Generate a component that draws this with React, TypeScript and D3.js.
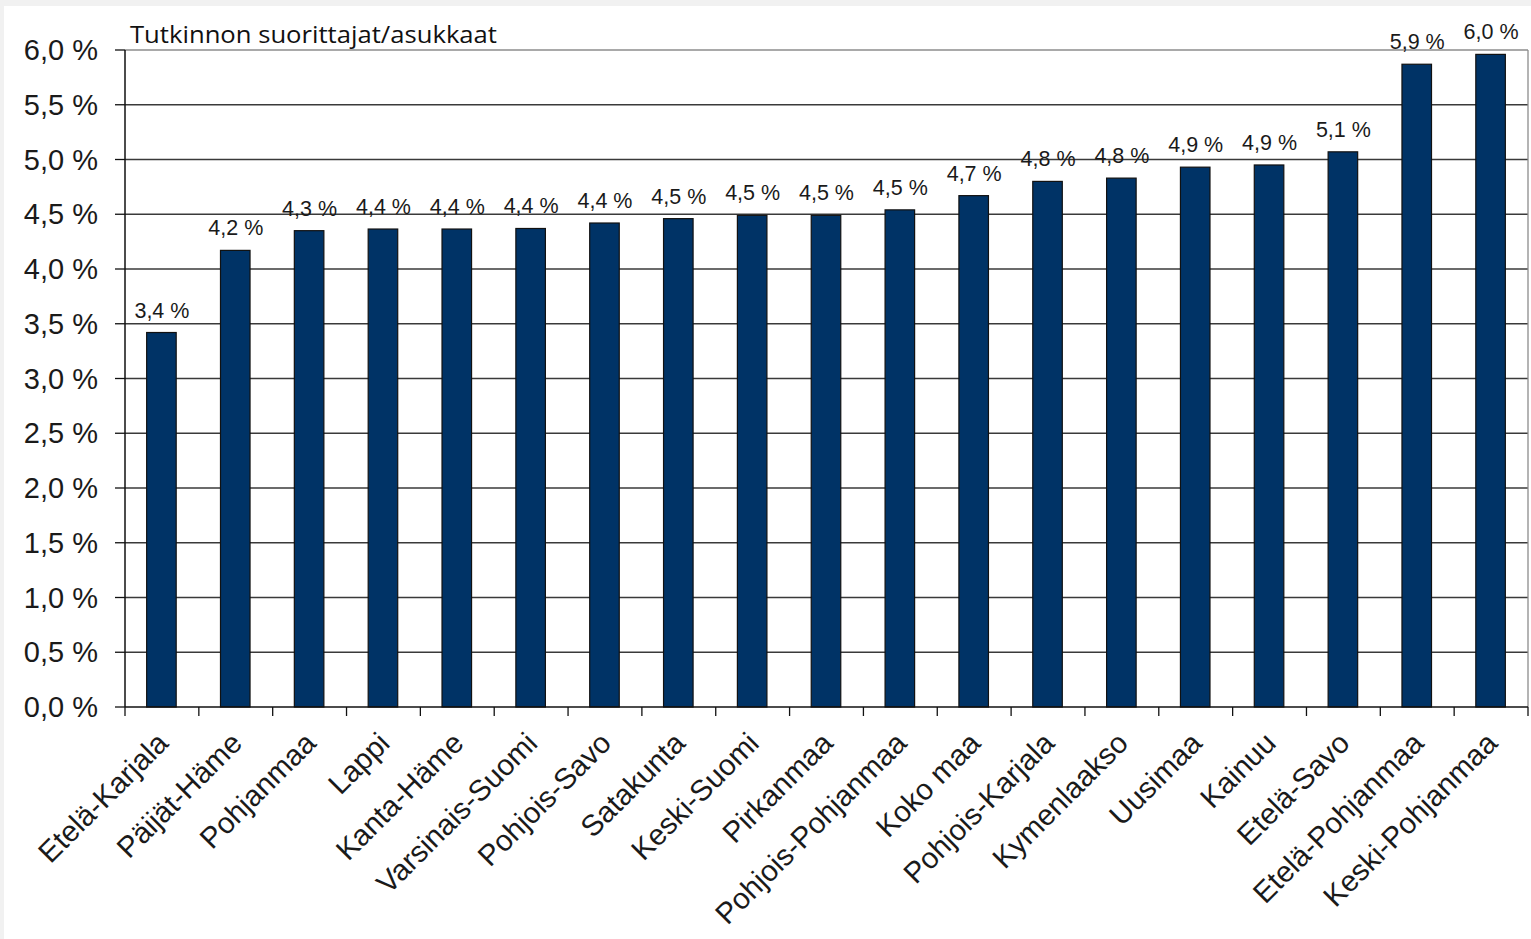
import React from "react";
import * as d3 from "d3";

const categories = [
  "Etelä-Karjala", "Päijät-Häme", "Pohjanmaa", "Lappi", "Kanta-Häme",
  "Varsinais-Suomi", "Pohjois-Savo", "Satakunta", "Keski-Suomi", "Pirkanmaa",
  "Pohjois-Pohjanmaa", "Koko maa", "Pohjois-Karjala", "Kymenlaakso", "Uusimaa",
  "Kainuu", "Etelä-Savo", "Etelä-Pohjanmaa", "Keski-Pohjanmaa",
];
const values = [
  3.42, 4.17, 4.35, 4.365, 4.365, 4.37, 4.42, 4.46, 4.49, 4.49,
  4.54, 4.67, 4.80, 4.83, 4.93, 4.95, 5.07, 5.87, 5.96,
];
const valueLabels = [
  "3,4 %", "4,2 %", "4,3 %", "4,4 %", "4,4 %", "4,4 %", "4,4 %", "4,5 %", "4,5 %", "4,5 %",
  "4,5 %", "4,7 %", "4,8 %", "4,8 %", "4,9 %", "4,9 %", "5,1 %", "5,9 %", "6,0 %",
];
const yTicks = [0, 0.5, 1, 1.5, 2, 2.5, 3, 3.5, 4, 4.5, 5, 5.5, 6];
const title = "Tutkinnon suorittajat/asukkaat";

const W = 1531;
const H = 939;
const left = 125;
const right = 1528;
const top = 50;
const bottom = 707;

const fmt = (v: number) => v.toFixed(1).replace(".", ",") + " %";

export default function App() {
  const x = d3.scaleBand<string>().domain(categories).range([left, right]).paddingInner(0).paddingOuter(0);
  const y = d3.scaleLinear().domain([0, 6]).range([bottom, top]);
  const bw = x.bandwidth() * 0.4;
  const boundaries = d3.range(categories.length + 1).map((i) => left + i * x.step());

  return (
    <svg width={W} height={H} style={{ position: "absolute", left: 0, top: 0, display: "block" }}>
      <rect x={0} y={0} width={W} height={H} fill="#f1f1f1" />
      <rect x={4} y={6} width={W - 4} height={H - 6} fill="#ffffff" />
      {yTicks.filter((t) => t > 0 && t < 6).map((t) => (
        <line key={t} x1={left} x2={right} y1={y(t)} y2={y(t)} stroke="#3a3a3a" strokeWidth={1.3} />
      ))}
      <line x1={left} x2={right} y1={y(6)} y2={y(6)} stroke="#8c8c8c" strokeWidth={1.3} />
      <line x1={right} x2={right} y1={y(6)} y2={bottom} stroke="#8c8c8c" strokeWidth={1.3} />
      {categories.map((c, i) => {
        const cx = x(c)! + x.bandwidth() / 2;
        return (
          <rect key={c} x={cx - bw / 2 - 0.5} y={y(values[i])} width={bw} height={bottom - y(values[i])}
            fill="#003366" stroke="#111" strokeWidth={1.2} />
        );
      })}
      {categories.map((c, i) => {
        const cx = x(c)! + x.bandwidth() / 2;
        return (
          <text key={c} x={cx} y={y(values[i]) - 15} textAnchor="middle" fontFamily="'Liberation Sans', Arial, sans-serif"
            fontSize={21.5} fill="#1a1a1a">{valueLabels[i]}</text>
        );
      })}
      <line x1={left} x2={left} y1={top} y2={bottom} stroke="#111" strokeWidth={1.5} />
      {yTicks.map((t) => (
        <g key={t}>
          <line x1={left - 10} x2={left} y1={y(t)} y2={y(t)} stroke="#111" strokeWidth={1.3} />
          <text x={98} y={y(t)} textAnchor="end" dominantBaseline="central" fontFamily="'Liberation Sans', Arial, sans-serif"
            fontSize={29} fill="#1a1a1a">{fmt(t)}</text>
        </g>
      ))}
      <line x1={left} x2={right} y1={bottom} y2={bottom} stroke="#111" strokeWidth={1.5} />
      {boundaries.map((bx, i) => (
        <line key={i} x1={bx} x2={bx} y1={bottom} y2={bottom + 9} stroke="#111" strokeWidth={1.3} />
      ))}
      {categories.map((c) => {
        const cx = x(c)! + x.bandwidth() / 2;
        return (
          <text key={c} transform={`translate(${cx + 8},${bottom + 38}) rotate(-45)`} textAnchor="end"
            fontFamily="'Liberation Sans', Arial, sans-serif" fontSize={29.5} fill="#1a1a1a">{c}</text>
        );
      })}
      <text x={130} y={43} fontFamily="'Open Sans', 'Noto Sans', sans-serif" fontSize={24} fill="#111"
        textLength={367} lengthAdjust="spacingAndGlyphs">{title}</text>
    </svg>
  );
}
